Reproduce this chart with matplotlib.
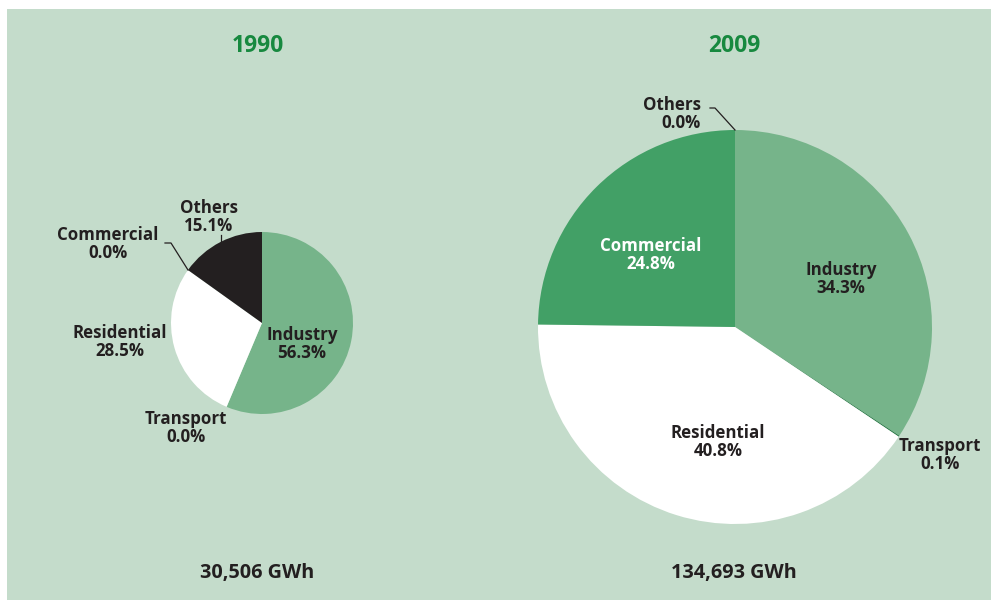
import matplotlib
matplotlib.use("Agg")
import matplotlib.pyplot as plt
from matplotlib.patches import Rectangle

plt.rcParams['font.family'] = ['Open Sans', 'DejaVu Sans']

categories = ["Industry", "Transport", "Residential", "Commercial", "Others"]
values_1990 = [56.3, 0.0, 28.5, 0.0, 15.1]
values_2009 = [34.3, 0.1, 40.8, 24.8, 0.0]
years = ["1990", "2009"]
totals = ["30,506 GWh", "134,693 GWh"]
colors = ["#76b48a", "#2f7d4c", "#ffffff", "#42a066", "#231f20"]

BG = "#c4dccb"
TXT = "#231f20"
TITLE = "#17893f"

W, H = 991, 600
fig = plt.figure(figsize=(W / 100, H / 100), dpi=100)
fig.patch.set_facecolor("white")
ax = fig.add_axes([0, 0, 1, 1])

def Y(y):
    return H - y

ax.add_patch(Rectangle((7, 0), W - 7, H - 9, facecolor=BG, edgecolor="none", zorder=0))

# pies
pies = [
    (values_1990, (262, Y(323)), 91),
    (values_2009, (735, Y(327)), 197),
]
for vals, c, r in pies:
    ax.pie(vals, colors=colors, startangle=90, counterclock=False, center=c,
           radius=r, frame=True, wedgeprops=dict(linewidth=0))
ax.set_xlim(0, W)
ax.set_ylim(0, H)
ax.set_aspect("auto")
ax.axis("off")

fs = 12.2
def lab(x, y, name, val, color=TXT, ha="center"):
    ax.text(x, Y(y), f"{name}\n{val:.1f}%", ha=ha, va="center", fontsize=fs,
            fontweight="bold", color=color, linespacing=1.05, zorder=5)

# titles
ax.text(258, Y(46), years[0], ha="center", va="center", fontsize=16.5, fontweight="bold", color=TITLE)
ax.text(734, Y(46), years[1], ha="center", va="center", fontsize=16.5, fontweight="bold", color=TITLE)
ax.text(257, Y(573), totals[0], ha="center", va="center", fontsize=14.3, fontweight="bold", color=TXT)
ax.text(734, Y(573), totals[1], ha="center", va="center", fontsize=14.3, fontweight="bold", color=TXT)

# 1990 labels
lab(302, 344, categories[0], values_1990[0])
lab(186, 428, categories[1], values_1990[1])
lab(120, 342, categories[2], values_1990[2])
lab(108, 244, categories[3], values_1990[3])
lab(209, 217, categories[4], values_1990[4])
ax.plot([165, 171, 188], [Y(243), Y(243), Y(270)], color=TXT, lw=0.9, zorder=4)
ax.plot([221, 221], [Y(235), Y(242)], color=TXT, lw=0.9, zorder=4)

# 2009 labels
lab(841, 279, categories[0], values_2009[0])
lab(940, 455, categories[1], values_2009[1])
lab(718, 442, categories[2], values_2009[2])
lab(651, 255, categories[3], values_2009[3], color="white")
lab(701, 114, categories[4], values_2009[4], ha="right")
ax.plot([710, 715, 735], [Y(108), Y(108), Y(130)], color=TXT, lw=0.9, zorder=4)

fig.savefig("out.png", dpi=100, facecolor=fig.get_facecolor())
